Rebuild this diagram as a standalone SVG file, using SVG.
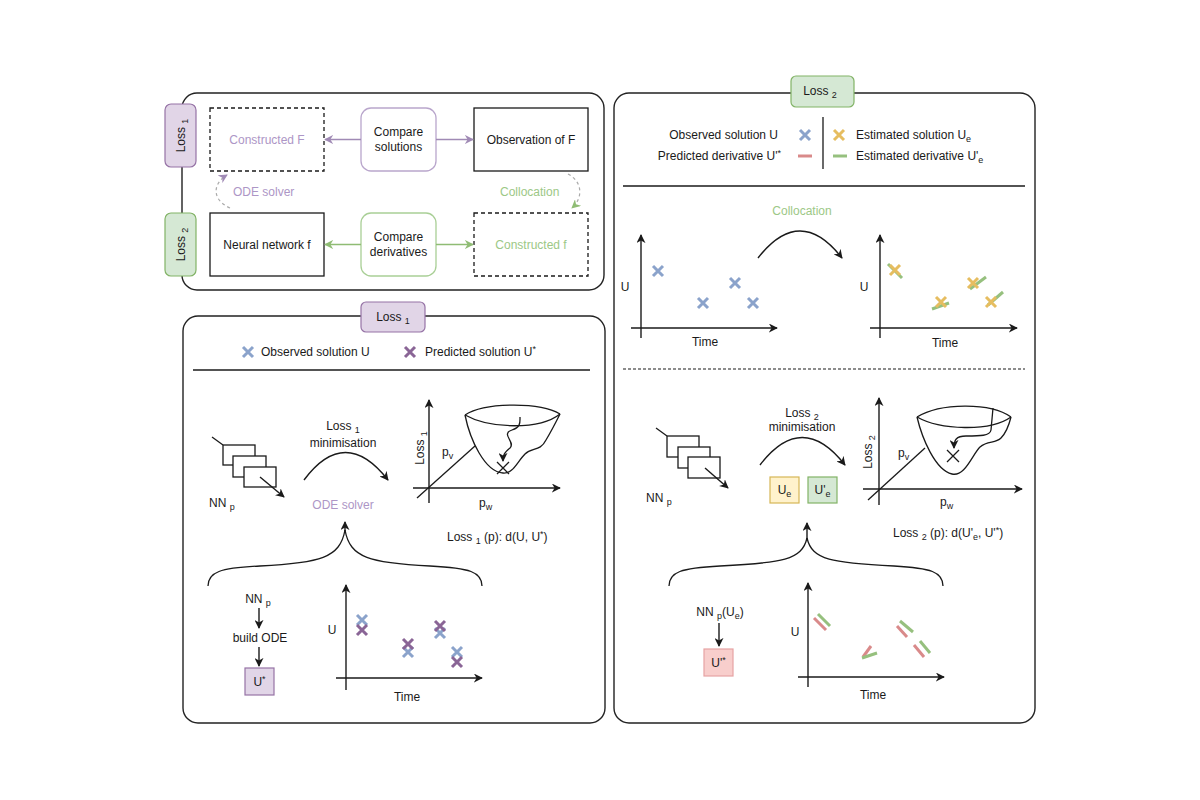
<svg xmlns="http://www.w3.org/2000/svg" xmlns:xlink="http://www.w3.org/1999/xlink" width="1200" height="800" viewBox="0 0 1200 800">
<style>
text{font-family:"Liberation Sans",Arial,sans-serif;font-size:12px;fill:#1a1a1a}
.mid{text-anchor:middle}
.end{text-anchor:end}
.panel{fill:#fff;stroke:#222;stroke-width:1.4}
.box{fill:#fff;stroke:#1a1a1a;stroke-width:1.3}
.dash{fill:#fff;stroke:#1a1a1a;stroke-width:1.3;stroke-dasharray:4 3}
.tagP{fill:#e1d5e7;stroke:#9673a6;stroke-width:1.2}
.tagG{fill:#d5e8d4;stroke:#82b366;stroke-width:1.2}
.tagY{fill:#fff2cc;stroke:#d6b656;stroke-width:1.2}
.tagR{fill:#f8cecc;stroke:#e6a3a3;stroke-width:1.2}
.ptxt{fill:#ad96c6}
.gtxt{fill:#9cc886}
.ln{fill:none;stroke:#1a1a1a;stroke-width:1.3}
.ax{fill:none;stroke:#1a1a1a;stroke-width:1.4;marker-end:url(#ah)}
.pa{fill:none;stroke:#a08ab5;stroke-width:1.3;marker-end:url(#ahP)}
.ga{fill:none;stroke:#8fbc74;stroke-width:1.3;marker-end:url(#ahG)}
.xb{stroke:#8ba3cb;stroke-width:3;fill:none}
.xp{stroke:#8a6596;stroke-width:3;fill:none}
.xy{stroke:#e6bd60;stroke-width:3;fill:none}
.dr{stroke:#d98a8a;stroke-width:3;fill:none}
.dg{stroke:#96c07e;stroke-width:3;fill:none}
</style>
<defs>
<marker id="ah" viewBox="0 0 10 10" refX="9" refY="5" markerWidth="9" markerHeight="9" markerUnits="userSpaceOnUse" orient="auto"><path d="M0,0 L10,5 L0,10 L3,5 z" fill="#1a1a1a"/></marker>
<marker id="ahP" viewBox="0 0 10 10" refX="9" refY="5" markerWidth="9" markerHeight="9" markerUnits="userSpaceOnUse" orient="auto"><path d="M0,0 L10,5 L0,10 L3,5 z" fill="#a08ab5"/></marker>
<marker id="ahG" viewBox="0 0 10 10" refX="9" refY="5" markerWidth="9" markerHeight="9" markerUnits="userSpaceOnUse" orient="auto"><path d="M0,0 L10,5 L0,10 L3,5 z" fill="#8fbc74"/></marker>
<path id="xm" d="M-5,-5 L5,5 M5,-5 L-5,5"/>
</defs>
<rect width="1200" height="800" fill="#fff"/>

<!-- ===== Top-left overview panel ===== -->
<g id="overview-panel">
<rect class="panel" x="182" y="93" width="422" height="197" rx="15"/>
</g>
<g id="tag-loss1-top">
<rect class="tagP" x="165" y="104" width="31" height="63" rx="6"/>
<text class="mid" transform="translate(184.5,135.5) rotate(-90)">Loss <tspan font-size="9" dy="3">1</tspan></text>
</g>
<g id="tag-loss2-top">
<rect class="tagG" x="165" y="213" width="31" height="63" rx="6"/>
<text class="mid" transform="translate(184.5,244.5) rotate(-90)">Loss <tspan font-size="9" dy="3">2</tspan></text>
</g>
<g id="node-constructed-F">
<rect class="dash" x="210" y="108" width="114" height="63"/>
<text class="mid ptxt" x="267" y="144">Constructed F</text>
</g>
<g id="node-compare-solutions">
<rect x="361" y="108" width="75" height="63" rx="10" fill="#fff" stroke="#b9a6cc" stroke-width="1.3"/>
<text class="mid" x="398.5" y="136">Compare</text>
<text class="mid" x="398.5" y="151">solutions</text>
</g>
<g id="node-observation-F">
<rect class="box" x="474" y="108" width="114" height="63"/>
<text class="mid" x="531" y="144">Observation of F</text>
</g>
<g id="node-neural-network-f">
<rect class="box" x="210" y="213" width="114" height="63"/>
<text class="mid" x="267" y="249">Neural network f</text>
</g>
<g id="node-compare-derivatives">
<rect x="361" y="213" width="75" height="63" rx="10" fill="#fff" stroke="#a9cf96" stroke-width="1.3"/>
<text class="mid" x="398.5" y="241">Compare</text>
<text class="mid" x="398.5" y="256">derivatives</text>
</g>
<g id="node-constructed-f">
<rect class="dash" x="474" y="213" width="114" height="63"/>
<text class="mid gtxt" x="531" y="249">Constructed f</text>
</g>
<g id="connectors-overview">
<line class="pa" x1="361" y1="139.5" x2="325" y2="139.5"/>
<line class="pa" x1="436" y1="139.5" x2="473" y2="139.5"/>
<line class="ga" x1="361" y1="244.5" x2="325" y2="244.5"/>
<line class="ga" x1="436" y1="244.5" x2="473" y2="244.5"/>
<path d="M230,208 C212,200 212,184 227,175" fill="none" stroke="#aaa" stroke-width="1.2" stroke-dasharray="3 3" marker-end="url(#ahP)"/>
<path d="M568,174 C583,182 583,198 572,208" fill="none" stroke="#aaa" stroke-width="1.2" stroke-dasharray="3 3" marker-end="url(#ahG)"/>
<text class="ptxt" x="233" y="196">ODE solver</text>
<text class="gtxt" x="500" y="196">Collocation</text>
</g>

<!-- ===== Bottom-left Loss 1 panel ===== -->
<g id="loss1-panel">
<rect class="panel" x="183" y="316" width="422" height="407" rx="15"/>
<rect class="tagP" x="361" y="302" width="64" height="30" rx="5"/>
<text class="mid" x="393" y="321">Loss <tspan font-size="9" dy="3">1</tspan></text>
</g>
<g id="loss1-legend">
<use href="#xm" x="248" y="352" class="xb"/>
<text x="261" y="356">Observed solution U</text>
<use href="#xm" x="410" y="352" class="xp"/>
<text x="425" y="356">Predicted solution U<tspan font-size="9" dy="-4">*</tspan></text>
<line class="ln" x1="193" y1="370" x2="590" y2="370"/>
</g>
<g id="loss1-nn">
<line class="ln" x1="212" y1="437" x2="223" y2="445"/>
<rect class="box" x="223" y="445" width="32" height="20"/>
<rect class="box" x="233" y="456" width="33" height="21"/>
<rect class="box" x="244" y="467" width="32" height="20"/>
<line class="ax" x1="260" y1="477" x2="284" y2="497"/>
<text x="209" y="507">NN <tspan font-size="9" dy="3">p</tspan></text>
</g>
<g id="loss1-minimisation">
<text class="mid" x="343" y="430">Loss <tspan font-size="9" dy="3">1</tspan></text>
<text class="mid" x="343" y="447">minimisation</text>
<path class="ax" d="M304,480 Q345,425 388,480"/>
<text class="mid ptxt" x="343" y="509">ODE solver</text>
</g>
<g id="loss1-landscape">
<line class="ax" x1="429" y1="503" x2="429" y2="400"/>
<line class="ax" x1="413" y1="488" x2="560" y2="488"/>
<line class="ln" x1="417" y1="498" x2="475" y2="446"/>
<text class="mid" transform="translate(424,448) rotate(-90)">Loss <tspan font-size="9" dy="3">1</tspan></text>
<text x="442" y="456">p<tspan font-size="9" dy="3">v</tspan></text>
<text x="479" y="507">p<tspan font-size="9" dy="3">w</tspan></text>
<path class="ln" d="M465,415 C485,402 540,402 560,414"/>
<path class="ln" d="M465,415 C490,429 540,430 560,414"/>
<path class="ln" d="M465,415 C470,440 485,472 503,473 C513,474 517,462 525,454 C532,447 540,452 546,440 C552,430 556,422 560,414"/>
<path class="ln" d="M520,417 C520,422 521,427 512,430 C500,434 516,442 510,448 C504,453 503,455 503,461" marker-end="url(#ah)"/>
<path d="M497,462 L509,474 M509,462 L497,474" stroke="#1a1a1a" stroke-width="1.3"/>
<text x="447" y="541">Loss <tspan font-size="9" dy="3">1</tspan><tspan dy="-3"> (p):  d(U, U</tspan><tspan font-size="9" dy="-4">*</tspan><tspan dy="4">)</tspan></text>
</g>
<g id="loss1-brace">
<path class="ln" d="M208,586 C208,572 220,568 260,566 C320,563 340,558 345,530"/>
<path class="ln" d="M482,586 C482,572 470,568 430,566 C370,563 350,558 345,530"/>
<line class="ax" x1="345" y1="532" x2="345" y2="522"/>
</g>
<g id="loss1-ode-chain">
<text class="mid" x="258" y="603">NN <tspan font-size="9" dy="3">p</tspan></text>
<line class="ax" x1="259" y1="608" x2="259" y2="628"/>
<text class="mid" x="260" y="642">build ODE</text>
<line class="ax" x1="259" y1="647" x2="259" y2="666"/>
<rect class="tagP" x="245" y="668" width="29" height="27"/>
<text class="mid" x="259.5" y="686">U<tspan font-size="9" dy="-4">*</tspan></text>
</g>
<g id="loss1-plot">
<line class="ax" x1="346" y1="690" x2="346" y2="585"/>
<line class="ax" x1="336" y1="678" x2="482" y2="678"/>
<text class="mid" x="332" y="634">U</text>
<text class="mid" x="407" y="701">Time</text>
<use href="#xm" x="362" y="620" class="xb"/>
<use href="#xm" x="362" y="630" class="xp"/>
<use href="#xm" x="408" y="652" class="xb"/>
<use href="#xm" x="408" y="644" class="xp"/>
<use href="#xm" x="440" y="633" class="xb"/>
<use href="#xm" x="440" y="626" class="xp"/>
<use href="#xm" x="457" y="652" class="xb"/>
<use href="#xm" x="457" y="662" class="xp"/>
</g>

<!-- ===== Right Loss 2 panel ===== -->
<g id="loss2-panel">
<rect class="panel" x="614" y="93" width="421" height="630" rx="15"/>
<rect class="tagG" x="791" y="76" width="63" height="31" rx="5"/>
<text class="mid" x="820" y="95">Loss <tspan font-size="9" dy="3">2</tspan></text>
</g>
<g id="loss2-legend">
<text class="end" x="778" y="139">Observed solution U</text>
<use href="#xm" x="805" y="135" class="xb"/>
<text class="end" x="781" y="160">Predicted derivative U'<tspan font-size="9" dy="-4">*</tspan></text>
<line class="dr" x1="798" y1="156" x2="812" y2="156"/>
<line class="ln" x1="823" y1="117" x2="823" y2="169"/>
<use href="#xm" x="839" y="135" class="xy"/>
<text x="856" y="139">Estimated solution U<tspan font-size="9" dy="3">e</tspan></text>
<line class="dg" x1="833" y1="156" x2="847" y2="156"/>
<text x="856" y="160">Estimated derivative U'<tspan font-size="9" dy="3">e</tspan></text>
<line class="ln" x1="623" y1="186" x2="1025" y2="186"/>
</g>
<g id="loss2-collocation">
<text class="mid gtxt" x="802" y="215">Collocation</text>
<path class="ax" d="M758,258 Q800,204 842,258"/>
<line class="ax" x1="641" y1="338" x2="641" y2="235"/>
<line class="ax" x1="631" y1="328" x2="777" y2="328"/>
<text class="mid" x="625" y="291">U</text>
<text class="mid" x="705" y="346">Time</text>
<use href="#xm" x="658" y="271" class="xb"/>
<use href="#xm" x="703" y="303" class="xb"/>
<use href="#xm" x="735" y="283" class="xb"/>
<use href="#xm" x="753" y="303" class="xb"/>
<line class="ax" x1="880" y1="338" x2="880" y2="235"/>
<line class="ax" x1="870" y1="328" x2="1017" y2="328"/>
<text class="mid" x="864" y="291">U</text>
<text class="mid" x="945" y="347">Time</text>
<line class="dg" x1="888" y1="264" x2="902" y2="278"/>
<use href="#xm" x="895" y="270" class="xy"/>
<line class="dg" x1="932" y1="309" x2="949" y2="303"/>
<use href="#xm" x="941" y="302" class="xy"/>
<line class="dg" x1="970" y1="289" x2="986" y2="277"/>
<use href="#xm" x="973" y="283" class="xy"/>
<line class="dg" x1="988" y1="305" x2="1003" y2="292"/>
<use href="#xm" x="991" y="302" class="xy"/>
<line x1="623" y1="369" x2="1025" y2="369" stroke="#1a1a1a" stroke-width="1.2" stroke-dasharray="3 2"/>
</g>
<g id="loss2-nn">
<line class="ln" x1="656" y1="428" x2="667" y2="436"/>
<rect class="box" x="667" y="436" width="32" height="21"/>
<rect class="box" x="678" y="447" width="32" height="21"/>
<rect class="box" x="688" y="457" width="32" height="21"/>
<line class="ax" x1="705" y1="468" x2="728" y2="488"/>
<text x="646" y="502">NN <tspan font-size="9" dy="3">p</tspan></text>
</g>
<g id="loss2-minimisation">
<text class="mid" x="802" y="417">Loss <tspan font-size="9" dy="3">2</tspan></text>
<text class="mid" x="802" y="431">minimisation</text>
<path class="ax" d="M760,465 Q802,410 845,465"/>
<rect class="tagY" x="770" y="477" width="29" height="26"/>
<text class="mid" x="784.5" y="494">U<tspan font-size="9" dy="3">e</tspan></text>
<rect class="tagG" x="808" y="477" width="29" height="26"/>
<text class="mid" x="822.5" y="494">U'<tspan font-size="9" dy="3">e</tspan></text>
</g>
<g id="loss2-landscape">
<line class="ax" x1="879" y1="505" x2="879" y2="398"/>
<line class="ax" x1="863" y1="489" x2="1022" y2="489"/>
<line class="ln" x1="868" y1="500" x2="925" y2="448"/>
<text class="mid" transform="translate(872,452) rotate(-90)">Loss <tspan font-size="9" dy="3">2</tspan></text>
<text x="898" y="457">p<tspan font-size="9" dy="3">v</tspan></text>
<text x="940" y="506">p<tspan font-size="9" dy="3">w</tspan></text>
<path class="ln" d="M917,417 C940,403 990,402 1011,417"/>
<path class="ln" d="M917,417 C940,430 990,432 1011,417"/>
<path class="ln" d="M917,417 C922,438 935,470 952,474 C965,477 972,455 980,447 C988,440 995,444 1001,438 C1007,432 1009,425 1011,417"/>
<path class="ln" d="M993,408 L991,430 C990,436 980,436 966,436 C956,436 954,440 954,448" marker-end="url(#ah)"/>
<path d="M947,450 L959,462 M959,450 L947,462" stroke="#1a1a1a" stroke-width="1.3"/>
<text x="893" y="537">Loss <tspan font-size="9" dy="3">2</tspan><tspan dy="-3"> (p):  d(U'</tspan><tspan font-size="9" dy="3">e</tspan><tspan dy="-3">, U'</tspan><tspan font-size="9" dy="-4">*</tspan><tspan dy="4">)</tspan></text>
</g>
<g id="loss2-brace">
<path class="ln" d="M669,586 C669,572 681,568 720,566 C782,563 802,560 807,538"/>
<path class="ln" d="M943,586 C943,572 931,568 894,566 C832,563 812,560 807,538"/>
<line class="ax" x1="807" y1="540" x2="807" y2="523"/>
</g>
<g id="loss2-nn-chain">
<text class="mid" x="720" y="616">NN <tspan font-size="9" dy="3">p</tspan><tspan dy="-3">(U</tspan><tspan font-size="9" dy="3">e</tspan><tspan dy="-3">)</tspan></text>
<line class="ax" x1="719" y1="623" x2="719" y2="646"/>
<rect class="tagR" x="704" y="649" width="29" height="27"/>
<text class="mid" x="718.5" y="667">U'<tspan font-size="9" dy="-4">*</tspan></text>
</g>
<g id="loss2-plot">
<line class="ax" x1="808" y1="687" x2="808" y2="583"/>
<line class="ax" x1="798" y1="677" x2="944" y2="677"/>
<text class="mid" x="795" y="636">U</text>
<text class="mid" x="873" y="699">Time</text>
<line class="dg" x1="818" y1="614" x2="830" y2="626"/>
<line class="dr" x1="814" y1="618" x2="826" y2="630"/>
<line class="dr" x1="863" y1="657" x2="871" y2="646"/>
<line class="dg" x1="862" y1="658" x2="877" y2="653"/>
<line class="dg" x1="900" y1="621" x2="913" y2="632"/>
<line class="dr" x1="897" y1="626" x2="907" y2="637"/>
<line class="dg" x1="920" y1="641" x2="930" y2="653"/>
<line class="dr" x1="914" y1="645" x2="924" y2="657"/>
</g>
</svg>
